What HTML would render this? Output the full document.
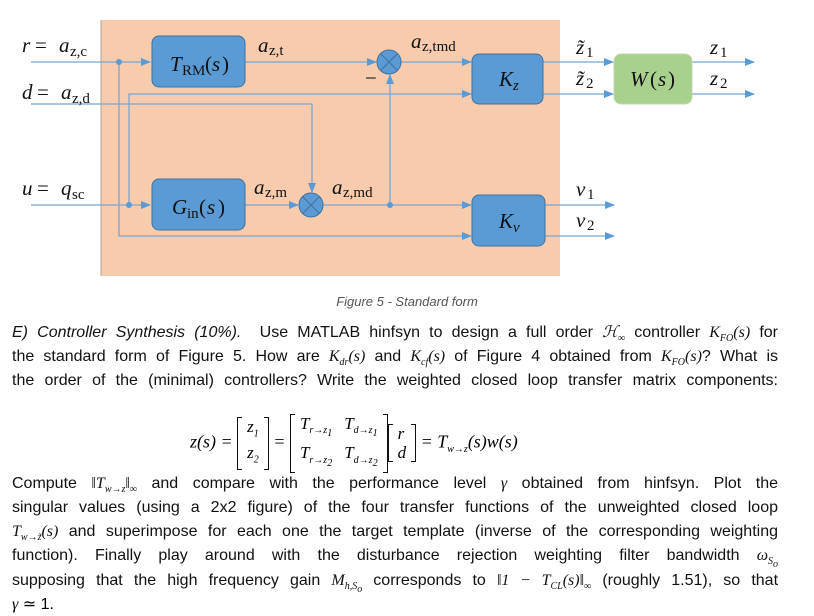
<!DOCTYPE html>
<html><head><meta charset="utf-8"><style>
body{margin:0;width:814px;height:616px;background:#fff;overflow:hidden;position:relative;font-family:"Liberation Sans",sans-serif;}
.m{font-family:"Liberation Serif",serif;font-style:italic;}
.ln{position:absolute;left:12px;width:766px;font-size:16px;white-space:nowrap;text-align:justify;text-align-last:justify;color:#111;line-height:20px;}
sub{font-size:10px;}
.mat{display:inline-block;vertical-align:middle;border-left:1.3px solid #111;border-right:1.3px solid #111;padding:0 3px;line-height:19px;position:relative;}
.mat:before,.mat:after{content:"";position:absolute;top:0;bottom:0;width:4px;border-top:1.3px solid #111;border-bottom:1.3px solid #111;}
.mat:before{left:0}.mat:after{right:0}
.mat table{border-collapse:collapse;font-size:17px}
.mat td{padding:0 6px}
</style></head><body>
<svg width="814" height="290" style="position:absolute;left:0;top:0" font-family="Liberation Serif">
<defs><marker id="a" markerWidth="10" markerHeight="8" refX="9" refY="4" orient="auto" markerUnits="userSpaceOnUse"><path d="M0,0L10,4L0,8z" fill="#5b9bd5"/></marker></defs>
<rect x="101" y="20" width="459" height="256" fill="#f8cbad"/>
<line x1="101" y1="20" x2="101" y2="276" stroke="#b8a090" stroke-width="1"/>
<g stroke="#7aa5d0" stroke-width="1.3" fill="none">
<line x1="31" y1="62" x2="150" y2="62" marker-end="url(#a)"/>
<line x1="245" y1="62" x2="376" y2="62" marker-end="url(#a)"/>
<line x1="401" y1="62" x2="471" y2="62" marker-end="url(#a)"/>
<line x1="31" y1="104" x2="312" y2="104"/>
<line x1="312" y1="104" x2="312" y2="192" marker-end="url(#a)"/>
<polyline points="129,205 129,94 471,94" marker-end="url(#a)"/>
<line x1="31" y1="205" x2="150" y2="205" marker-end="url(#a)"/>
<line x1="245" y1="205" x2="298" y2="205" marker-end="url(#a)"/>
<line x1="323" y1="205" x2="471" y2="205" marker-end="url(#a)"/>
<line x1="390" y1="205" x2="390" y2="75" marker-end="url(#a)"/>
<polyline points="119,62 119,236 471,236" marker-end="url(#a)"/>
<line x1="543" y1="62" x2="613" y2="62" marker-end="url(#a)"/>
<line x1="543" y1="94" x2="613" y2="94" marker-end="url(#a)"/>
<line x1="692" y1="62" x2="754" y2="62" marker-end="url(#a)"/>
<line x1="692" y1="94" x2="754" y2="94" marker-end="url(#a)"/>
<line x1="545" y1="205" x2="614" y2="205" marker-end="url(#a)"/>
<line x1="545" y1="236" x2="614" y2="236" marker-end="url(#a)"/>
</g>
<g fill="#5b9bd5"><circle cx="119" cy="62" r="3"/><circle cx="129" cy="205" r="3"/><circle cx="390" cy="205" r="3"/></g>
<g fill="#5b9bd5" stroke="#41719c" stroke-width="1">
<rect x="152" y="36" width="93" height="51" rx="7"/>
<rect x="152" y="179" width="93" height="51" rx="7"/>
<rect x="472" y="54" width="71" height="50" rx="7"/>
<rect x="472" y="195" width="73" height="51" rx="7"/>
</g>
<rect x="614" y="54" width="78" height="50" rx="7" fill="#a9d18e" stroke="#c0d8b0"/>
<g stroke="#41719c" stroke-width="1">
<circle cx="389" cy="62" r="12" fill="#5b9bd5"/><path d="M381,54L397,70M397,54L381,70"/>
<circle cx="311" cy="205" r="12" fill="#5b9bd5"/><path d="M303,197L319,213M319,197L303,213"/>
</g>
<g font-size="21" fill="#111">
<text x="22" y="52" font-style="italic">r</text><text x="35" y="52">=</text><text x="59" y="52" font-style="italic">a</text><text x="70" y="56" font-size="15">z,c</text>
<text x="22" y="99" font-style="italic">d</text><text x="37" y="99">=</text><text x="61" y="99" font-style="italic">a</text><text x="72" y="103" font-size="15">z,d</text>
<text x="22" y="195" font-style="italic">u</text><text x="37" y="195">=</text><text x="61" y="195" font-style="italic">q</text><text x="72" y="199" font-size="15">sc</text>
<text x="170" y="71" font-style="italic">T</text><text x="182" y="75" font-size="15">RM</text><text x="205" y="71">(</text><text x="212" y="71" font-style="italic">s</text><text x="222" y="71">)</text>
<text x="172" y="214" font-style="italic">G</text><text x="187" y="218" font-size="15">in</text><text x="199" y="214">(</text><text x="207" y="214" font-style="italic">s</text><text x="218" y="214">)</text>
<text x="499" y="86" font-style="italic">K</text><text x="513" y="90" font-size="15" font-style="italic">z</text>
<text x="499" y="228" font-style="italic">K</text><text x="513" y="232" font-size="15" font-style="italic">v</text>
<text x="630" y="86" font-style="italic">W</text><text x="650" y="86">(</text><text x="658" y="86" font-style="italic">s</text><text x="668" y="86">)</text>
<text x="258" y="52" font-style="italic">a</text><text x="269" y="55" font-size="15">z,t</text>
<text x="411" y="48" font-style="italic">a</text><text x="422" y="51" font-size="15">z,tmd</text>
<text x="254" y="194" font-style="italic">a</text><text x="265" y="197" font-size="15">z,m</text>
<text x="332" y="194" font-style="italic">a</text><text x="343" y="197" font-size="15">z,md</text>
<text x="576" y="54" font-style="italic">z̃</text><text x="586" y="57" font-size="15">1</text>
<text x="576" y="85" font-style="italic">z̃</text><text x="586" y="88" font-size="15">2</text>
<text x="710" y="54" font-style="italic">z</text><text x="720" y="57" font-size="15">1</text>
<text x="710" y="85" font-style="italic">z</text><text x="720" y="88" font-size="15">2</text>
<text x="576" y="196" font-style="italic">v</text><text x="587" y="199" font-size="15">1</text>
<text x="576" y="227" font-style="italic">v</text><text x="587" y="230" font-size="15">2</text>
<text x="365" y="85">−</text>
</g>
</svg>
<div style="position:absolute;left:0;width:814px;top:294px;text-align:center;font-size:13px;font-style:italic;color:#555;">Figure 5 - Standard form</div>
<div class="ln" style="top:323px"><i>E) Controller Synthesis (10%).</i>&nbsp; Use MATLAB hinfsyn to design a full order <span class="m">ℋ<sub>∞</sub></span> controller <span class="m">K<sub>FO</sub>(s)</span> for</div>
<div class="ln" style="top:347px">the standard form of Figure 5. How are <span class="m">K<sub>dr</sub>(s)</span> and <span class="m">K<sub>cf</sub>(s)</span> of Figure 4 obtained from <span class="m">K<sub>FO</sub>(s)</span>? What is</div>
<div class="ln" style="top:371px">the order of the (minimal) controllers? Write the weighted closed loop transfer matrix components:</div>
<div style="position:absolute;left:190px;top:414px;font-size:18px;white-space:nowrap;line-height:40px;" class="m">z(s) = <span class="mat"><table><tr><td>z<sub>1</sub></td></tr><tr><td>z<sub>2</sub></td></tr></table></span> = <span class="mat"><table><tr><td>T<sub>r→z<sub>1</sub></sub></td><td>T<sub>d→z<sub>1</sub></sub></td></tr><tr><td>T<sub>r→z<sub>2</sub></sub></td><td>T<sub>d→z<sub>2</sub></sub></td></tr></table></span><span class="mat"><table><tr><td>r</td></tr><tr><td>d</td></tr></table></span> = T<sub>w→z</sub>(s)w(s)</div>
<div class="ln" style="top:474px">Compute <span class="m">‖T<sub>w→z</sub>‖<sub>∞</sub></span> and compare with the performance level <span class="m">γ</span> obtained from hinfsyn. Plot the</div>
<div class="ln" style="top:498px">singular values (using a 2x2 figure) of the four transfer functions of the unweighted closed loop</div>
<div class="ln" style="top:522px"><span class="m">T<sub>w→z̃</sub>(s)</span> and superimpose for each one the target template (inverse of the corresponding weighting</div>
<div class="ln" style="top:546px">function). Finally play around with the disturbance rejection weighting filter bandwidth <span class="m">ω<sub>S<sub>o</sub></sub></span></div>
<div class="ln" style="top:571px">supposing that the high frequency gain <span class="m">M<sub>h,S<sub>o</sub></sub></span> corresponds to <span class="m">‖1 − T<sub>CL</sub>(s)‖<sub>∞</sub></span> (roughly 1.51), so that</div>
<div style="position:absolute;left:12px;top:595px;font-size:16px;line-height:20px;"><span class="m">γ</span> ≃ 1.</div>
</body></html>
